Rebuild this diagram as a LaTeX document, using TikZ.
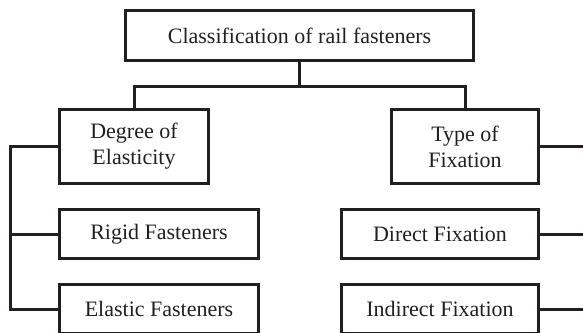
\documentclass[tikz,border=0pt]{standalone}
\usepackage{fontspec}
\setmainfont{Liberation Serif}
\definecolor{inkdark}{RGB}{35,31,32}
\tikzset{
    fbox/.style={draw=inkdark, line width=3pt, text=inkdark, align=center,
        inner sep=0pt, font=\fontsize{22}{26}\selectfont},
    link/.style={draw=inkdark, line width=3pt}
}
\begin{document}
\begin{tikzpicture}[x=1pt, y=-1pt]
    \useasboundingbox (0,0) rectangle (583,332);

    % Top box
    \node[fbox, minimum width=348pt, minimum height=50pt] (top) at (299.5,35.75) {Classification of rail fasteners};

    % Left branch - Degree of Elasticity
    \node[fbox, minimum width=149pt, minimum height=74pt] (degree) at (134,146.5) {Degree of\\Elasticity};
    \node[fbox, minimum width=199pt, minimum height=49pt] (rigid) at (159,234) {Rigid Fasteners};
    \node[fbox, minimum width=199pt, minimum height=49pt] (elastic) at (159,309) {Elastic Fasteners};

    % Right branch - Type of Fixation
    \node[fbox, minimum width=147pt, minimum height=74pt] (type) at (465,146.5) {Type of\\Fixation};
    \node[fbox, minimum width=197pt, minimum height=49pt] (direct) at (440,234) {Direct Fixation};
    \node[fbox, minimum width=197pt, minimum height=49pt] (indirect) at (440,309) {Indirect Fixation};

    % Connectors
    \coordinate (split) at (299.5,86.5);
    \coordinate (lrail) at (10.5,146.5);
    \coordinate (rrail) at (588.5,146.5);

    \draw[link] (top.south) -- (split);
    \draw[link] (degree.north) |- (split) -| (type.north);

    \draw[link] (degree.west) -- (lrail) |- (elastic.west);
    \draw[link] (rigid.west) -- (rigid.west -| lrail);

    \draw[link] (type.east) -- (rrail) |- (indirect.east);
    \draw[link] (direct.east) -- (direct.east -| rrail);
\end{tikzpicture}
\end{document}
